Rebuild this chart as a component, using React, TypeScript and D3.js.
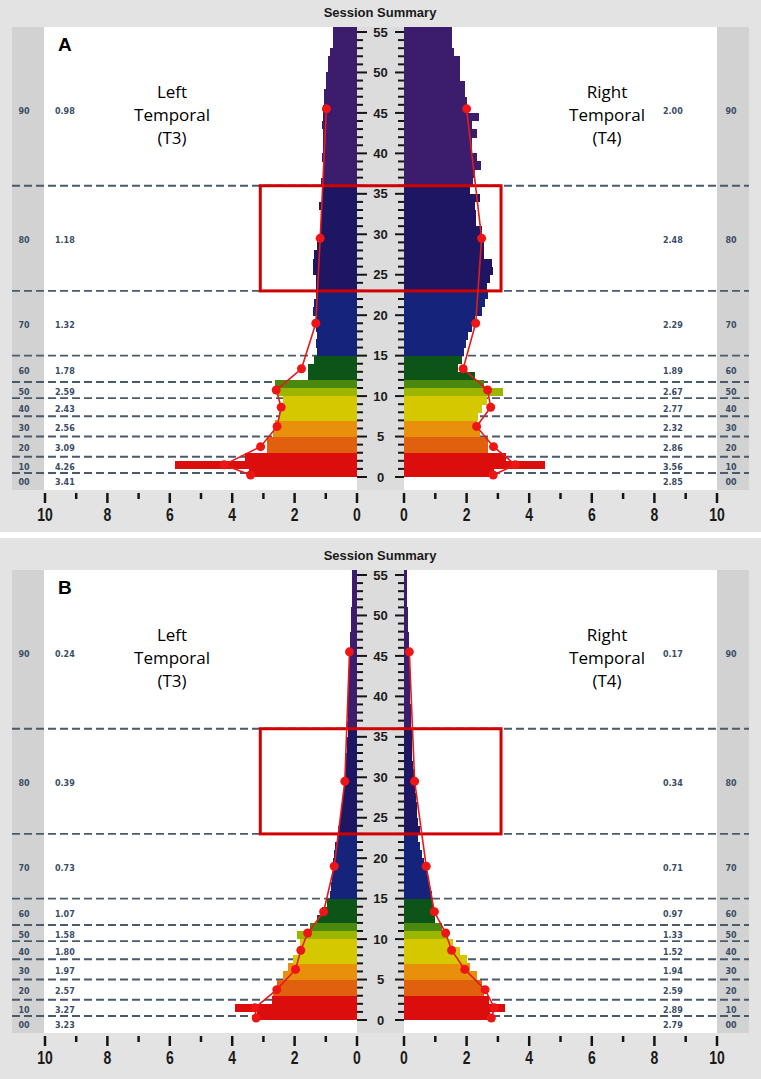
import React from "react";
import * as d3 from "d3";

const W = 761;
const H = 1079;

// 1 Hz frequency bins, 0..55 Hz
const freqBins = d3.range(0, 56);
const freqTicks = d3.range(0, 56);
const freqLabels = d3.range(0, 56, 5);
const ampTicks = d3.range(0, 11);

const bandLabels = ["00", "10", "20", "30", "40", "50", "60", "70", "80", "90"];
const bandEdges = [0, 0.5, 2.5, 5, 7.5, 9.75, 11.75, 15, 23, 36, 55];

const aLeftBand = [3.41, 4.26, 3.09, 2.56, 2.43, 2.59, 1.78, 1.32, 1.18, 0.98];
const aRightBand = [2.85, 3.56, 2.86, 2.32, 2.77, 2.67, 1.89, 2.29, 2.48, 2.0];
const bLeftBand = [3.23, 3.27, 2.57, 1.97, 1.8, 1.58, 1.07, 0.73, 0.39, 0.24];
const bRightBand = [2.79, 2.89, 2.59, 1.94, 1.52, 1.33, 0.97, 0.71, 0.34, 0.17];

const aLeftBins = [
  3.45, 5.83, 3.6, 2.9, 2.88, 2.7, 2.62, 2.5, 2.38, 2.38,
  2.58, 2.62, 1.56, 1.56, 1.38, 1.29, 1.3, 1.28, 1.3, 1.3,
  1.4, 1.38, 1.3, 1.3, 1.32, 1.42, 1.42, 1.38, 1.29, 1.25,
  1.16, 1.16, 1.16, 1.21, 1.11, 1.11, 1.16, 1.08, 1.08, 1.12,
  1.08, 1.08, 1.08, 1.13, 1.08, 1.08, 1.05, 1.05, 1.0, 1.0,
  0.94, 0.94, 0.87, 0.78, 0.76, 0.76,
];
const aRightBins = [
  2.86, 4.5, 3.27, 2.69, 2.69, 2.43, 2.32, 2.38, 2.48, 2.64,
  3.17, 2.55, 2.28, 1.74, 1.84, 1.92, 1.98, 2.06, 2.16, 2.27,
  2.48, 2.59, 2.69, 2.64, 2.74, 2.83, 2.8, 2.54, 2.54, 2.48,
  2.48, 2.3, 2.3, 2.27, 2.43, 2.11, 2.21, 2.27, 2.46, 2.34,
  2.16, 2.16, 2.32, 2.16, 2.4, 2.06, 2.0, 1.95, 1.95, 1.8,
  1.8, 1.8, 1.6, 1.54, 1.54, 1.54,
];
const bLeftBins = [
  3.21, 3.91, 2.73, 2.7, 2.55, 2.38, 2.2, 2.04, 1.83, 1.83,
  1.93, 1.5, 1.29, 1.13, 0.97, 0.88, 0.84, 0.81, 0.78, 0.76,
  0.74, 0.71, 0.65, 0.6, 0.56, 0.52, 0.49, 0.46, 0.43, 0.41,
  0.39, 0.37, 0.35, 0.33, 0.31, 0.3, 0.31, 0.3, 0.29, 0.28,
  0.28, 0.27, 0.26, 0.26, 0.25, 0.24, 0.22, 0.21, 0.2, 0.19,
  0.18, 0.17, 0.16, 0.15, 0.15, 0.15,
];
const bRightBins = [
  2.75, 3.23, 2.72, 2.54, 2.49, 2.33, 2.11, 2.0, 1.79, 1.58,
  1.42, 1.21, 0.99, 0.94, 0.94, 0.88, 0.83, 0.78, 0.72, 0.64,
  0.57, 0.51, 0.46, 0.5, 0.46, 0.43, 0.4, 0.37, 0.35, 0.33,
  0.31, 0.29, 0.27, 0.26, 0.25, 0.24, 0.23, 0.22, 0.21, 0.2,
  0.2, 0.19, 0.19, 0.18, 0.18, 0.17, 0.16, 0.15, 0.14, 0.13,
  0.12, 0.11, 0.1, 0.09, 0.08, 0.08,
];

// highlighted region (Hz range, amplitude half-width)
const boxFreq = [23, 36];
const boxAmp = 3.1;

// bar colour by bin (thresholds are bin indices)
const binBreaks = [3, 5, 7, 10, 11, 12, 15, 23, 36];
const binColors = [
  "#dc0d0d", "#e0600e", "#e8900c", "#d6c800", "#9cb600",
  "#4a880e", "#0c5418", "#16237a", "#1f1663", "#3c1c6c",
];

const bold = "'Liberation Sans', Arial, sans-serif";

type PanelProps = {
  tag: string;
  offsetY: number;
  bgTop: number;
  bgBottom: number;
  leftBins: number[];
  rightBins: number[];
  leftBand: number[];
  rightBand: number[];
};

const Panel = ({ tag, offsetY, bgTop, bgBottom, leftBins, rightBins, leftBand, rightBand }: PanelProps) => {
  const plotTop = 27, plotBottom = 490;
  const y = d3.scaleLinear().domain([0, 55]).range([477, 32]);
  const xL = d3.scaleLinear().domain([0, 10]).range([357, 45]);
  const xR = d3.scaleLinear().domain([0, 10]).range([404, 717]);
  const color = d3.scaleThreshold<number, string>().domain(binBreaks).range(binColors);

  const mids = bandLabels.map((_, i) => (bandEdges[i] + bandEdges[i + 1]) / 2);
  // side labels sit at band centres, pushed down so they never overlap
  const labelY: number[] = new Array(mids.length);
  let prev = -Infinity;
  for (let i = mids.length - 1; i >= 0; i--) {
    labelY[i] = Math.max(y(mids[i]) + 2, prev + 15);
    prev = labelY[i];
  }

  const lineL = d3.line<number>().x((v) => xL(v)).y((_, i) => y(mids[i]));
  const lineR = d3.line<number>().x((v) => xR(v)).y((_, i) => y(mids[i]));
  const inner = bandEdges.slice(1, -1);

  return (
    <g transform={`translate(0,${offsetY})`}>
      <rect x={0} y={bgTop} width={W} height={bgBottom - bgTop} fill="#e3e3e3" />
      <rect x={44} y={plotTop} width={673} height={plotBottom - plotTop} fill="#ffffff" />
      <rect x={12} y={plotTop} width={32} height={plotBottom - plotTop} fill="#d2d2d2" />
      <rect x={717} y={plotTop} width={32} height={plotBottom - plotTop} fill="#d2d2d2" />

      <text x={380} y={17} textAnchor="middle" fontFamily={bold} fontWeight="bold" fontSize={13} fill="#1a1a1a">
        Session Summary
      </text>

      {inner.map((f) => (
        <line key={f} x1={12} x2={749} y1={y(f)} y2={y(f)} stroke="#4a5a6d" strokeWidth={1.9} strokeDasharray="8,4" />
      ))}

      {freqBins.map((k, i) => {
        const top = Math.max(y(k + 1), plotTop);
        const h = y(k) - top + 0.4;
        return (
          <g key={k} shapeRendering="crispEdges">
            <rect x={xL(leftBins[i])} y={top} width={357 - xL(leftBins[i])} height={h} fill={color(k)} />
            <rect x={404} y={top} width={xR(rightBins[i]) - 404} height={h} fill={color(k)} />
          </g>
        );
      })}

      <rect x={357} y={plotTop} width={47} height={plotBottom - plotTop} fill="#dcdcdc" />
      {freqTicks.map((f) => {
        const major = f % 5 === 0;
        return (
          <g key={f}>
            <line x1={357} x2={major ? 367 : 363} y1={y(f)} y2={y(f)} stroke="#151515" strokeWidth={2} />
            <line x1={404} x2={major ? 395 : 398} y1={y(f)} y2={y(f)} stroke="#151515" strokeWidth={2} />
          </g>
        );
      })}
      {freqLabels.map((f) => (
        <text key={f} x={380.5} y={y(f)} dy="0.36em" textAnchor="middle" fontFamily={bold} fontWeight="bold" fontSize={13} fill="#1a1a1a">
          {f}
        </text>
      ))}

      {ampTicks.map((v) => {
        const major = v % 2 === 0;
        return (
          <g key={v}>
            <line x1={xL(v)} x2={xL(v)} y1={493} y2={major ? 503 : 499} stroke="#151515" strokeWidth={2.5} />
            <line x1={xR(v)} x2={xR(v)} y1={493} y2={major ? 503 : 499} stroke="#151515" strokeWidth={2.5} />
            {major && (
              <>
                <text transform={`translate(${xL(v)},521) scale(1,1.25)`} textAnchor="middle" fontFamily={bold} fontWeight="bold" fontSize={14} fill="#1a1a1a">{v}</text>
                <text transform={`translate(${xR(v)},521) scale(1,1.25)`} textAnchor="middle" fontFamily={bold} fontWeight="bold" fontSize={14} fill="#1a1a1a">{v}</text>
              </>
            )}
          </g>
        );
      })}

      <rect
        x={xL(boxAmp)}
        y={y(boxFreq[1])}
        width={xR(boxAmp) - xL(boxAmp)}
        height={y(boxFreq[0]) - y(boxFreq[1])}
        fill="none"
        stroke="#d10000"
        strokeWidth={3}
      />

      <path d={lineL(leftBand) ?? ""} fill="none" stroke="#e31b1b" strokeWidth={1.6} />
      <path d={lineR(rightBand) ?? ""} fill="none" stroke="#e31b1b" strokeWidth={1.6} />
      {leftBand.map((v, i) => (
        <circle key={"l" + i} cx={xL(v)} cy={y(mids[i])} r={4.5} fill="#ee1515" />
      ))}
      {rightBand.map((v, i) => (
        <circle key={"r" + i} cx={xR(v)} cy={y(mids[i])} r={4.5} fill="#ee1515" />
      ))}

      {bandLabels.map((lab, i) => (
        <g key={lab} fontFamily="'DejaVu Sans', sans-serif" fontWeight="bold" fontSize={8} fill="#3a4d66">
          <text x={24} y={labelY[i]} dy="0.35em" textAnchor="middle">{lab}</text>
          <text x={55} y={labelY[i]} dy="0.35em">{leftBand[i].toFixed(2)}</text>
          <text x={663} y={labelY[i]} dy="0.35em">{rightBand[i].toFixed(2)}</text>
          <text x={731} y={labelY[i]} dy="0.35em" textAnchor="middle">{lab}</text>
        </g>
      ))}

      <text x={58} y={51} fontFamily={bold} fontWeight="bold" fontSize={19} fill="#000">{tag}</text>

      <g fontFamily="'Open Sans', sans-serif" fontSize={17} fill="#000" textAnchor="middle">
        <text x={172} y={98}>Left</text>
        <text x={172} y={121}>Temporal</text>
        <text x={172} y={144}>(T3)</text>
        <text x={607} y={98}>Right</text>
        <text x={607} y={121}>Temporal</text>
        <text x={607} y={144}>(T4)</text>
      </g>
    </g>
  );
};

export default function App() {
  return (
    <svg width={W} height={H} style={{ position: "absolute", left: 0, top: 0, display: "block" }}>
      <rect width={W} height={H} fill="#ffffff" />
      <Panel tag="A" offsetY={0} bgTop={0} bgBottom={532} leftBins={aLeftBins} rightBins={aRightBins} leftBand={aLeftBand} rightBand={aRightBand} />
      <Panel tag="B" offsetY={543} bgTop={-5} bgBottom={536} leftBins={bLeftBins} rightBins={bRightBins} leftBand={bLeftBand} rightBand={bRightBand} />
    </svg>
  );
}
